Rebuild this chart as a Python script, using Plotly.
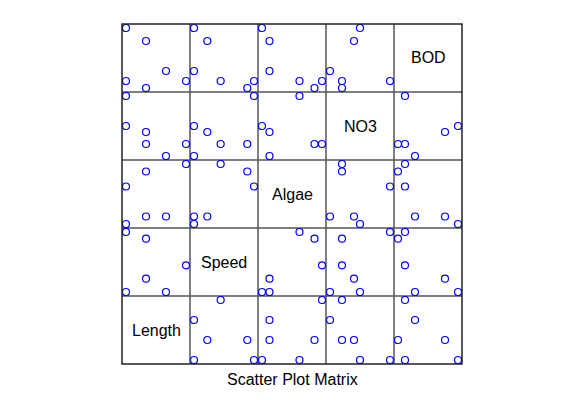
import plotly.graph_objects as go
from plotly.subplots import make_subplots

# ---- data ----
variables = ["Length", "Speed", "Algae", "NO3", "BOD"]
length = [1, 1, 2, 2, 3, 4]
speed = [10, 1, 3, 9, 1, 5]
algae = [15, 10, 11, 17, 11, 18]
no3 = [3.5, 2.5, 2.3, 1.9, 1.5, 1.9]
bod = [2.7, 8.0, 6.7, 2.0, 3.7, 2.7]
title_text = "Scatter Plot Matrix"

data = {"Length": length, "Speed": speed, "Algae": algae, "NO3": no3, "BOD": bod}

n = len(variables)
pad = 4 / 60.0


def axis_range(vals):
    lo, hi = min(vals), max(vals)
    span = hi - lo
    return [lo - pad * span, hi + pad * span]


FONT = "Liberation Sans, Arial, Helvetica, sans-serif"

fig = make_subplots(rows=n, cols=n, horizontal_spacing=0, vertical_spacing=0)

annotations = []
for r in range(1, n + 1):
    yv = variables[n - r]
    for c in range(1, n + 1):
        xv = variables[c - 1]
        fig.update_xaxes(range=axis_range(data[xv]), visible=False, fixedrange=True, row=r, col=c)
        fig.update_yaxes(range=axis_range(data[yv]), visible=False, fixedrange=True, row=r, col=c)
        if xv == yv:
            annotations.append(dict(
                x=(c - 0.5) / n, y=1 - (r - 0.5) / n, xref="paper", yref="paper",
                text=xv, showarrow=False, xanchor="center", yanchor="middle",
                font=dict(family=FONT, size=16, color="black")))
        else:
            fig.add_trace(go.Scatter(
                x=data[xv], y=data[yv], mode="markers",
                marker=dict(symbol="circle-open", size=7, color="blue",
                            line=dict(width=1.2, color="blue")),
                showlegend=False, hoverinfo="skip"), row=r, col=c)

annotations.append(dict(
    x=0.5, y=-15 / 340, xref="paper", yref="paper", text=title_text,
    showarrow=False, xanchor="center", yanchor="middle",
    font=dict(family=FONT, size=16, color="black")))

shapes = []
for k in range(1, n):
    shapes.append(dict(type="line", xref="paper", yref="paper", x0=k / n, x1=k / n, y0=0, y1=1,
                       line=dict(color="#555555", width=1.5), layer="below"))
    shapes.append(dict(type="line", xref="paper", yref="paper", y0=k / n, y1=k / n, x0=0, x1=1,
                       line=dict(color="#555555", width=1.5), layer="below"))
shapes.append(dict(type="rect", xref="paper", yref="paper", x0=0, x1=1, y0=0, y1=1,
                   line=dict(color="#222222", width=1.5)))

fig.update_layout(
    width=584, height=400,
    margin=dict(l=122, r=122, t=24, b=36),
    paper_bgcolor="white", plot_bgcolor="white",
    annotations=annotations, shapes=shapes,
    font=dict(family=FONT, size=16, color="black"),
)

fig.write_html("out.html")
